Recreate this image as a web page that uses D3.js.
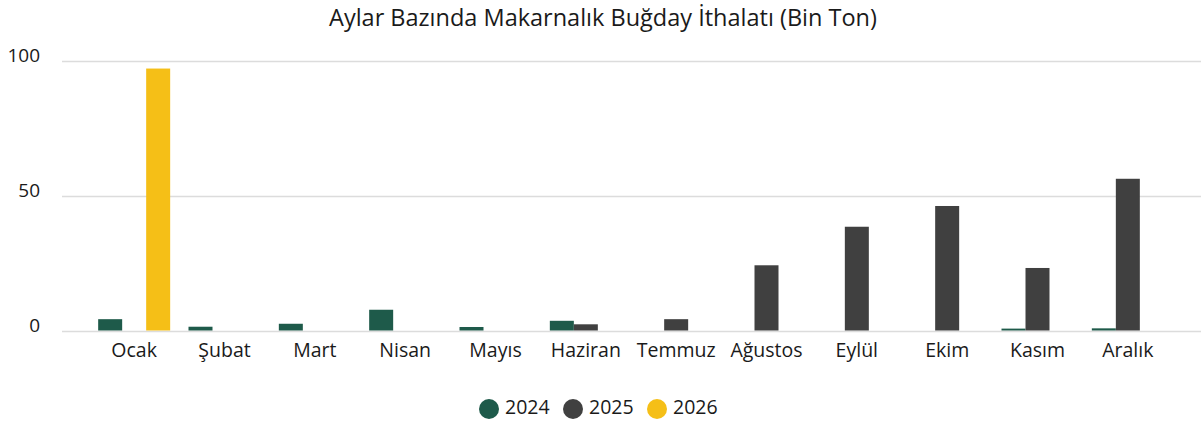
<!DOCTYPE html>
<html>
<head>
<meta charset="utf-8">
<script src="https://cdn.jsdelivr.net/npm/d3@7"></script>
<style>
  body { margin: 0; background: #fff; }
  text { font-family: "Open Sans", "Noto Sans", sans-serif; fill: #1a1a1a; }
</style>
</head>
<body>
<svg width="1204" height="425"></svg>
<script>
const months = ["Ocak", "Şubat", "Mart", "Nisan", "Mayıs", "Haziran", "Temmuz", "Ağustos", "Eylül", "Ekim", "Kasım", "Aralık"];
const years = ["2024", "2025", "2026"];
const colors = ["#1e5a4a", "#404040", "#f5bf17"];

// Bin ton
const v2024 = [4.2, 1.4, 2.5, 7.7, 1.3, 3.6, 0, 0, 0, 0, 0.7, 0.8];
const v2025 = [0, 0, 0, 0, 0, 2.3, 4.2, 24.2, 38.5, 46.2, 23.2, 56.3];
const v2026 = [97.2, 0, 0, 0, 0, 0, 0, 0, 0, 0, 0, 0];
const yTicks = [0, 50, 100];

const series = [v2024, v2025, v2026];
const data = months.map((m, i) => ({
  month: m,
  values: years.map((yr, j) => ({ year: yr, value: series[j][i], idx: j }))
}));

const svg = d3.select("svg");

const gridLeft = 62, gridRight = 1201;

const x = d3.scaleBand().domain(months).range([89, 1173]).paddingInner(0).paddingOuter(0);
const x1 = d3.scaleBand().domain(years).range([x.bandwidth() / 2 - 36, x.bandwidth() / 2 + 36]);
const y = d3.scaleLinear().domain([0, 100]).range([330.5, 61]);

// title
svg.append("text")
   .attr("x", 603)
   .attr("y", 26)
   .attr("text-anchor", "middle")
   .style("font-size", "23.5px")
   .text("Aylar Bazında Makarnalık Buğday İthalatı (Bin Ton)");

// gridlines
svg.append("g")
   .selectAll("line")
   .data(yTicks)
   .join("line")
   .attr("x1", gridLeft)
   .attr("x2", gridRight)
   .attr("y1", d => Math.round(y(d)) + 0.5)
   .attr("y2", d => Math.round(y(d)) + 0.5)
   .attr("stroke", "#dcdcdc")
   .attr("stroke-width", 1.5);

// y labels
svg.append("g")
   .selectAll("text")
   .data(yTicks)
   .join("text")
   .attr("x", 40)
   .attr("y", d => y(d) - 4)
   .attr("text-anchor", "end")
   .attr("dominant-baseline", "middle")
   .style("font-size", "19px")
   .text(d => d);

// bars
const groups = svg.append("g")
   .selectAll("g")
   .data(data)
   .join("g")
   .attr("transform", d => `translate(${x(d.month)},0)`);

groups.selectAll("rect")
   .data(d => d.values.filter(v => v.value > 0))
   .join("rect")
   .attr("x", d => x1(d.year))
   .attr("width", x1.bandwidth())
   .attr("y", d => y(d.value))
   .attr("height", d => y(0) - y(d.value))
   .attr("fill", d => colors[d.idx]);

// x labels
svg.append("g")
   .selectAll("text")
   .data(months)
   .join("text")
   .attr("x", d => x(d) + x.bandwidth() / 2)
   .attr("y", 357)
   .attr("text-anchor", "middle")
   .style("font-size", "19.5px")
   .text(d => d);

// legend
const legendX = [489, 573, 657];
const legend = svg.append("g")
   .selectAll("g")
   .data(years)
   .join("g")
   .attr("transform", (d, i) => `translate(${legendX[i]},409)`);

legend.append("circle")
   .attr("r", 10)
   .attr("fill", (d, i) => colors[i]);

legend.append("text")
   .attr("x", 16)
   .attr("y", 5)
   .style("font-size", "19.5px")
   .text(d => d);
</script>
</body>
</html>
